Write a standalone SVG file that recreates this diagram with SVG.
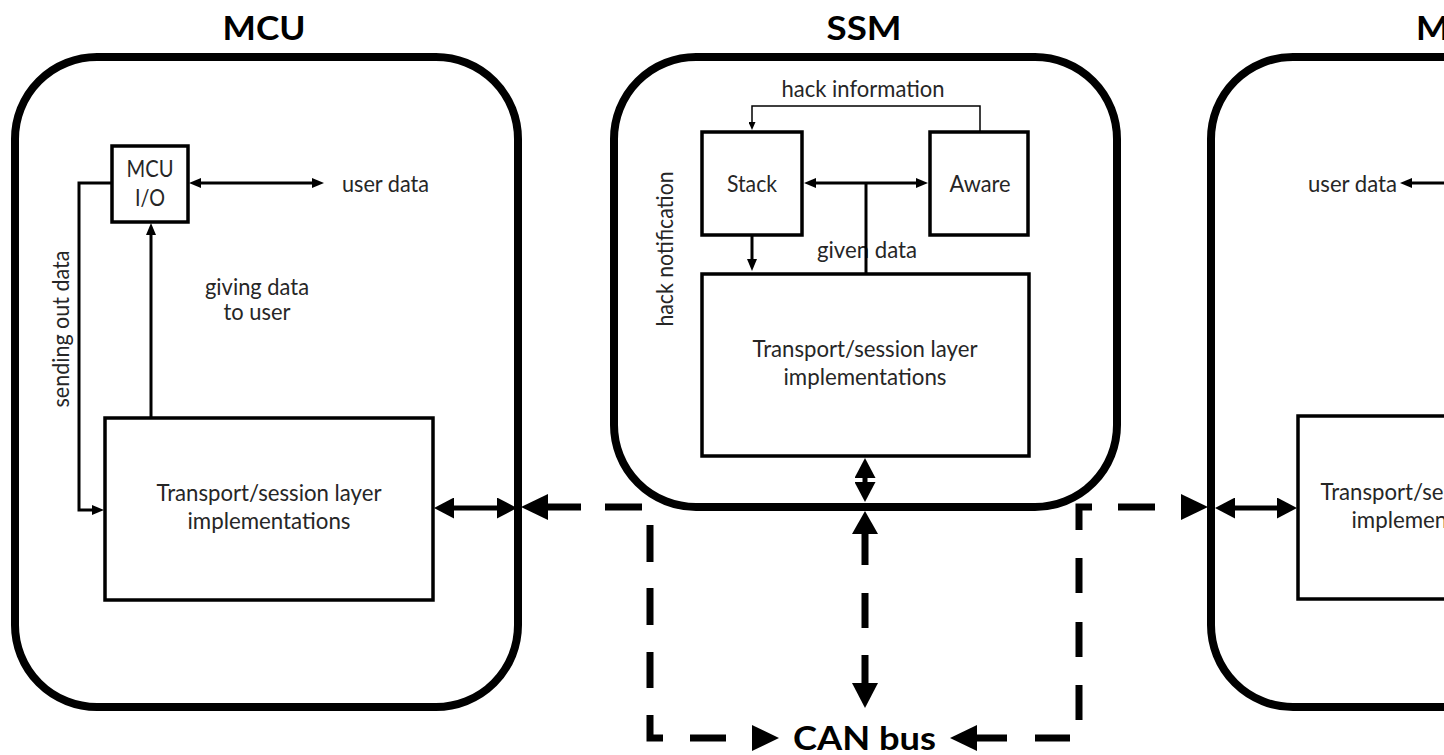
<svg xmlns="http://www.w3.org/2000/svg" width="1444" height="755" viewBox="0 0 1444 755">
<style>
.panel{fill:#fff;stroke:#000;stroke-width:8}
.box{fill:#fff;stroke:#000;stroke-width:3.5}
.t{font-family:Lato,"Open Sans","Liberation Sans",sans-serif;font-size:22.5px;fill:#262626}
.title{font-family:Lato,"Open Sans","Liberation Sans",sans-serif;font-size:33px;font-weight:bold;fill:#000}
.thin{fill:none;stroke:#000;stroke-width:3}
.hair{fill:none;stroke:#000;stroke-width:1.5}
.thick{fill:none;stroke:#000;stroke-width:5}
.dash{fill:none;stroke:#000;stroke-width:7;stroke-linecap:butt;stroke-linejoin:miter}
.head{fill:#000}
</style>
<defs>
<marker id="sm" markerUnits="userSpaceOnUse" viewBox="0 0 12 10" refX="1" refY="5" markerWidth="12" markerHeight="10" orient="auto-start-reverse"><path d="M0,0 L12,5 L0,10 z" fill="#000"/></marker>
<marker id="tiny" markerUnits="userSpaceOnUse" viewBox="0 0 8 7" refX="1" refY="3.5" markerWidth="8" markerHeight="7" orient="auto-start-reverse"><path d="M0,0 L8,3.5 L0,7 z" fill="#000"/></marker>
<marker id="tk" markerUnits="userSpaceOnUse" viewBox="0 0 20 21" refX="1" refY="10.5" markerWidth="20" markerHeight="21" orient="auto-start-reverse"><path d="M0,0 L20,10.5 L0,21 z" fill="#000"/></marker>
</defs>

<g id="mcu-left">
<rect class="panel" x="15" y="57" width="503" height="650" rx="82"/>
<text class="title" x="264" y="40" text-anchor="middle" textLength="83" lengthAdjust="spacingAndGlyphs">MCU</text>
</g>
<g id="mcu-io">
<rect class="box" x="112" y="146" width="76" height="76" stroke-width="3.3"/>
<text class="t" x="150" y="177" text-anchor="middle" textLength="47" lengthAdjust="spacingAndGlyphs">MCU</text>
<text class="t" x="150" y="206" text-anchor="middle" textLength="30" lengthAdjust="spacingAndGlyphs">I/O</text>
</g>
<g id="mcu-left-transport">
<rect class="box" x="105" y="418" width="328" height="182" stroke-width="3"/>
<text class="t" x="269" y="501" text-anchor="middle" textLength="225" lengthAdjust="spacingAndGlyphs">Transport/session layer</text>
<text class="t" x="269" y="529" text-anchor="middle" textLength="163" lengthAdjust="spacingAndGlyphs">implementations</text>
</g>

<g id="ssm">
<rect class="panel" x="614" y="57" width="503" height="450" rx="82"/>
<text class="title" x="864" y="40" text-anchor="middle" textLength="75" lengthAdjust="spacingAndGlyphs">SSM</text>
</g>
<g id="ssm-stack">
<rect class="box" x="702" y="132" width="100" height="103" stroke-width="4"/>
<text class="t" x="752" y="192" text-anchor="middle" textLength="50" lengthAdjust="spacingAndGlyphs">Stack</text>
</g>
<g id="ssm-aware">
<rect class="box" x="930" y="132" width="98" height="103" stroke-width="4"/>
<text class="t" x="980" y="192" text-anchor="middle" textLength="61" lengthAdjust="spacingAndGlyphs">Aware</text>
</g>
<g id="ssm-transport">
<rect class="box" x="702" y="274" width="327" height="182" stroke-width="4"/>
<text class="t" x="865" y="357" text-anchor="middle" textLength="225" lengthAdjust="spacingAndGlyphs">Transport/session layer</text>
<text class="t" x="865" y="385" text-anchor="middle" textLength="163" lengthAdjust="spacingAndGlyphs">implementations</text>
</g>

<g id="mcu-right">
<rect class="panel" x="1211" y="57" width="503" height="650" rx="82"/>
<text class="title" x="1416" y="40" textLength="83" lengthAdjust="spacingAndGlyphs">MCU</text>
</g>
<g id="mcu-right-transport">
<rect class="box" x="1298" y="416" width="328" height="183" stroke-width="3"/>
<text class="t" x="1433" y="500" text-anchor="middle" textLength="225" lengthAdjust="spacingAndGlyphs">Transport/session layer</text>
<text class="t" x="1433" y="528" text-anchor="middle" textLength="163" lengthAdjust="spacingAndGlyphs">implementations</text>
</g>

<g id="labels">
<text class="t" x="342" y="192" textLength="87" lengthAdjust="spacingAndGlyphs">user data</text>
<text class="t" x="257" y="295" text-anchor="middle" textLength="104" lengthAdjust="spacingAndGlyphs">giving data</text>
<text class="t" x="257" y="320" text-anchor="middle" textLength="67" lengthAdjust="spacingAndGlyphs">to user</text>
<text class="t" transform="translate(69,329) rotate(-90)" text-anchor="middle" textLength="157" lengthAdjust="spacingAndGlyphs">sending out data</text>
<text class="t" x="863" y="97" text-anchor="middle" textLength="163" lengthAdjust="spacingAndGlyphs">hack information</text>
<text class="t" x="867" y="258" text-anchor="middle" textLength="100" lengthAdjust="spacingAndGlyphs">given data</text>
<text class="t" transform="translate(673,249) rotate(-90)" text-anchor="middle" textLength="155" lengthAdjust="spacingAndGlyphs">hack notification</text>
<text class="t" x="1397" y="192" text-anchor="end" textLength="89" lengthAdjust="spacingAndGlyphs">user data</text>
<text class="title" x="793" y="750" font-size="35" textLength="143" lengthAdjust="spacingAndGlyphs">CAN bus</text>
</g>

<g id="connectors">
<!-- MCU left -->
<path class="thin" d="M200,183 H313" marker-start="url(#sm)" marker-end="url(#sm)"/>
<path class="thin" d="M112,183 H79 V510 H93" stroke-width="2.5" marker-end="url(#sm)"/>
<path class="thin" d="M151,418 V234" marker-end="url(#sm)"/>
<path class="thick" d="M453,508 H498" marker-start="url(#tk)" marker-end="url(#tk)"/>
<!-- SSM -->
<path class="hair" d="M980,132 V106 H752 V123" marker-end="url(#tiny)"/>
<path class="thin" d="M815,183 H917" marker-start="url(#sm)" marker-end="url(#sm)"/>
<path class="thin" d="M866,183 V274"/>
<path class="thin" d="M752,235 V260" marker-end="url(#sm)"/>
<path class="thick" d="M865,477 V483" marker-start="url(#tk)" marker-end="url(#tk)"/>
<!-- MCU right -->
<path class="thick" d="M1234,508 H1278" marker-start="url(#tk)" marker-end="url(#tk)"/>
<path class="thin" d="M1450,183 H1411" marker-end="url(#sm)"/>
<!-- dashed bus -->
<path class="dash" d="M547,507 H581 M605,507 H642"/>
<path class="dash" d="M1079,530 V507 H1092 M1118,507 H1155"/>
<polygon class="head" points="521,507 548,494 548,520"/>
<polygon class="head" points="1208,507 1181,494 1181,520"/>
<path class="dash" d="M650,525 V562 M650,588 V625 M650,652 V688 M650,715 V738 H663 M690,738 H726"/>
<polygon class="head" points="779,738 752,725 752,751"/>
<path class="dash" d="M1079,558 V593 M1079,622 V657 M1079,685 V720 M1070,738 H1035 M1007,738 H976"/>
<polygon class="head" points="950,738 977,725 977,751"/>
<path class="dash" d="M865,532 V565 M865,593 V628 M865,655 V684"/>
<polygon class="head" points="865,511 852,534 878,534"/>
<polygon class="head" points="865,708 852,683 878,683"/>
</g>
</svg>
